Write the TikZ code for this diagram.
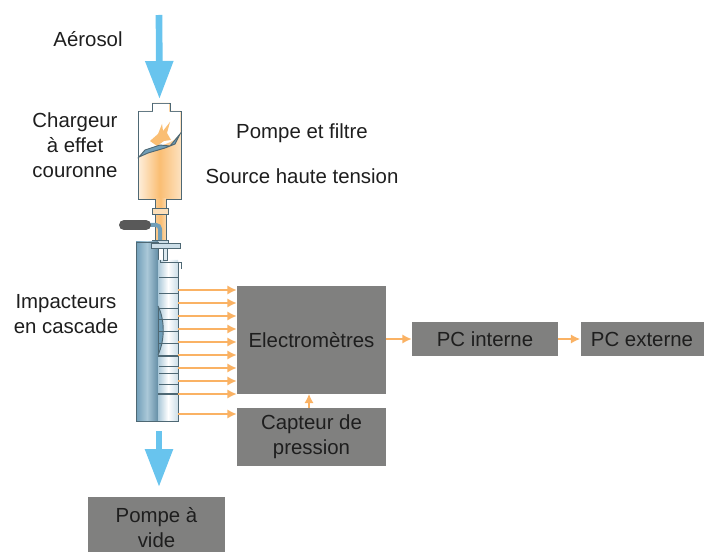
\documentclass[tikz,border=0pt]{standalone}
\usepackage{fontspec}
\setmainfont{Liberation Sans}
\usetikzlibrary{positioning,arrows.meta,calc}
\definecolor{cBox}  {RGB}{128,128,127}
\definecolor{cFlow} {RGB}{250,178,100}
\definecolor{cAir}  {RGB}{104,196,238}
\definecolor{cEdge} {RGB}{ 78,104,116}
\definecolor{cSteel}{RGB}{112,158,184}
\definecolor{cPale} {RGB}{170,200,216}
\definecolor{cSand} {RGB}{250,190,115}
\definecolor{cText} {RGB}{ 30, 30, 30}
\tikzset{
  box/.style    = {fill=cBox, text=cText, font=\fontsize{15.3}{18.75}\selectfont,
                   align=center, inner sep=0pt},
  lbl/.style    = {text=cText, font=\fontsize{15.3}{18.75}\selectfont,
                   align=center, inner sep=0pt},
  flowo/.style  = {-{Latex[length=7pt,width=7pt]}, cFlow, line width=2pt},
  flowa/.style  = {-{Triangle[length=28.5pt,width=20pt]}, cAir, line width=5pt},
  ring/.style   = {cEdge, line width=0.7pt},
  part/.style   = {draw=cEdge, line width=0.7pt},
}
\begin{document}
\begin{tikzpicture}[x=0.75pt,y=-0.75pt]
  \useasboundingbox (0,0) rectangle (714,552);

  % ---- boxes ---------------------------------------------------------
  \node[box, minimum width=111.75pt, minimum height=80.25pt] (elec) at (311.5,340) {Electromètres};
  \node[box, minimum width=111.75pt, minimum height=43.5pt] (capt) at (311.5,437) {Capteur de\\pression};
  \node[box, minimum width=109.5pt, minimum height=24.75pt] (pci) at (485,339) {PC interne};
  \node[box, minimum width=92.25pt, minimum height=24.75pt] (pce) at (642,339) {PC externe};
  \node[box, minimum width=102.75pt, minimum height=46.5pt] (pomp) at (156.5,528) {Pompe à\\vide};

  % ---- labels --------------------------------------------------------
  \node[lbl] (aero) at (88,39) {Aérosol};
  \node[lbl] (charg) at (75,145) {Chargeur\\à effet\\couronne};
  \node[lbl] (filt) at (302,133) {Pompe et filtre};
  \node[lbl] (src) at (302,176) {Source haute tension};
  \node[lbl] (casc) at (66,314) {Impacteurs\\en cascade};

  % ---- charger -------------------------------------------------------
  \path[part, left color=cSand!25, right color=cSand!45, middle color=cSand]
    (138,199) -- (138,111) -- (152,111) -- (152,103) -- (170,103)
    -- (170,111) -- (181,111) -- (181,199) -- cycle;
  \fill[white] (139,112) -- (153,112) -- (153,104) -- (169,104) -- (169,112)
    -- (180,112) -- (180,134) .. controls (172,146) and (150,146) .. (139,157) -- cycle;
  \fill[cSand] (150,141) -- (158,134) -- (162,124) -- (163,131) -- (170,122)
    -- (167,133) -- (171,140) -- (164,141) -- (157,146) -- cycle;
  \draw[part, fill=cSteel] (139,157) -- (145,150) -- (160,145) -- (170,146)
    -- (180,134) -- (175,144) -- (165,148) -- (148,153) -- cycle;
  \node[inner sep=0pt, minimum width=32pt, minimum height=66pt] (chg) at (159.5,155) {};

  % ---- neck and valve ------------------------------------------------
  \path[left color=cSand!80, right color=cSand!60, middle color=cSand]
    (155,199) rectangle (166,240);
  \draw[cEdge, line width=0.5pt] (155,199) -- (155,240) (166,199) -- (166,240);
  \draw[part, fill=cSand!50] (152,208) rectangle (168,214);
  \draw[cSteel, line width=3pt, rounded corners=3pt] (150,225) -- (160,225) -- (160,240);
  \draw[black!65, line width=7.5pt, line cap=round] (124,225) -- (146,225);
  \draw[part, fill=cPale!60] (152,240) rectangle (168,243);

  % ---- impactor column -----------------------------------------------
  \fill[cSteel] (156,300) rectangle (166,360);
  \path[part, left color=cSteel, right color=cSteel!90!black, middle color=cPale]
    (136,242) rectangle (158,421);
  \path[left color=cPale, right color=cPale!60, middle color=white]
    (158,260) -- (158,306) .. controls (165,320) and (165,340) .. (158,355)
    -- (158,421) -- (178,421) -- (178,260) -- cycle;
  \draw[part] (158,306) .. controls (165,320) and (165,340) .. (158,355);
  \draw[part] (178,262) -- (178,421) -- (136,421);
  \draw[part, fill=cPale!60] (151,243) rectangle (180,248);
  \draw[part, fill=cPale!40] (163,248) rectangle (167,260);
  \draw[part] (160,260) -- (160,262) -- (181,262) -- (181,269);
  \foreach \y in {277,293,308,319,331,343,366,373,384}
    \draw[ring] (159,\y) -- (178,\y);
  \draw[ring, line width=1.1pt] (158,356) -- (178,356);
  \draw[ring, line width=1.1pt] (158,394) -- (178,394);
  \node[inner sep=0pt, minimum width=15pt, minimum height=134pt] (imp) at (168,354) {};

  % ---- connectors ----------------------------------------------------
  \coordinate (top) at (159,15);
  \draw[flowa] (top) -- (chg.north |- 0,99);
  \coordinate (low) at (159,431);
  \draw[flowa] (low) -- (low |- 0,487);

  \foreach \y in {290,303,316,329,342,355,368,381,394}
    \draw[flowo] (imp.east |- 0,\y) -- (elec.west |- 0,\y);
  \draw[flowo] (imp.east |- 0,414) -- (capt.west |- 0,414);
  \draw[flowo] (elec.east |- pci) -- (pci);
  \draw[flowo] (pci) -- (pce);
  \draw[flowo] (capt.north -| 309,0) -- (elec.south -| 309,0);

\end{tikzpicture}
\end{document}
